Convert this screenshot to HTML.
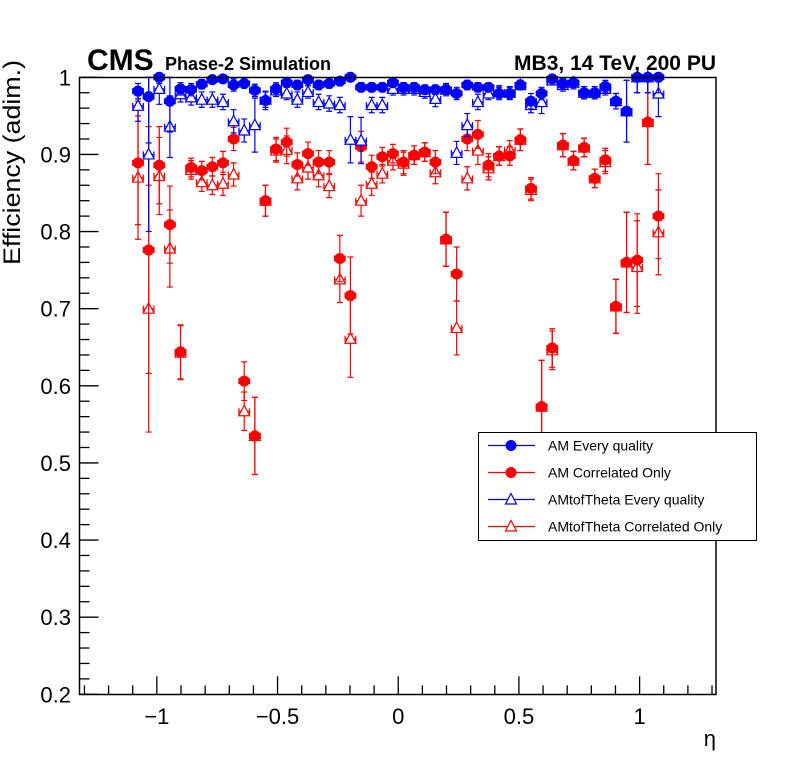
<!DOCTYPE html>
<html><head><meta charset="utf-8"><style>
body{margin:0;background:#fff}
svg text{font-family:"Liberation Sans",Arial,sans-serif}
</style></head><body>
<svg id="c" width="796" height="772" viewBox="0 0 796 772" xmlns="http://www.w3.org/2000/svg">
<rect x="0" y="0" width="796" height="772" fill="#fff"/>
<g id="marks"></g>
<rect x="79.5" y="77.5" width="636.5" height="617" fill="none" stroke="#000" stroke-width="1.5"/>
<g id="axes"></g>
<text x="87" y="70" font-size="30" font-weight="bold">CMS</text>
<text x="165" y="70" font-size="18" font-weight="bold">Phase-2 Simulation</text>
<text x="716" y="70" font-size="21" font-weight="bold" text-anchor="end">MB3, 14 TeV, 200 PU</text>
<text transform="translate(20,265) rotate(-90)" font-size="24" textLength="205" lengthAdjust="spacingAndGlyphs">Efficiency (adim.)</text>
<text x="716" y="746" font-size="22" text-anchor="end">η</text>
<g>
<rect x="478.5" y="432.5" width="278" height="108" fill="#fff" stroke="#000" stroke-width="1"/>
</g>
<g id="legend"></g>
</svg>
<script>
const etaMin=-1.078, etaStep=0.044;
const amEvery=[0.982,0.975,1.0,0.969,0.985,0.984,0.991,0.997,0.998,0.990,0.992,0.983,0.970,0.985,0.993,0.990,0.997,0.990,0.992,0.995,1.0,0.987,0.987,0.987,0.993,0.987,0.987,0.984,0.984,0.984,0.979,0.990,0.987,0.987,0.979,0.979,0.990,0.969,0.979,0.998,0.992,0.993,0.980,0.980,0.988,0.969,0.956,1.0,1.0,1.0];
const amEveryErr=[0.01,0.06,0.008,0.04,0.008,0.008,0.006,0.005,0.005,0.008,0.006,0.008,0.012,0.008,0.006,0.006,0.005,0.006,0.006,0.006,0.005,0.006,0.006,0.006,0.006,0.006,0.006,0.006,0.006,0.006,0.008,0.006,0.006,0.006,0.008,0.008,0.006,0.01,0.008,0.004,0.006,0.006,0.008,0.008,0.008,0.01,0.04,0.02,0.02,0.02];
const amCorr=[0.889,0.776,0.886,0.809,0.644,0.883,0.879,0.884,0.889,0.920,0.606,0.535,0.840,0.907,0.916,0.887,0.901,0.890,0.890,0.765,0.717,0.910,0.884,0.897,0.901,0.890,0.899,0.903,0.890,0.790,0.745,0.920,0.926,0.886,0.898,0.898,0.919,0.856,0.573,0.649,0.912,0.892,0.909,0.869,0.893,0.703,0.760,0.763,0.942,0.820];
const amCorrErr=[0.08,0.16,0.05,0.05,0.035,0.012,0.012,0.012,0.015,0.015,0.025,0.05,0.02,0.015,0.018,0.015,0.015,0.015,0.015,0.03,0.05,0.02,0.015,0.012,0.012,0.015,0.012,0.012,0.015,0.035,0.035,0.015,0.018,0.015,0.012,0.012,0.014,0.014,0.06,0.025,0.015,0.012,0.012,0.012,0.015,0.035,0.065,0.06,0.055,0.055];
const tofEvery=[0.963,0.900,0.985,0.936,0.978,0.974,0.971,0.971,0.968,0.943,0.931,0.938,0.971,0.983,0.979,0.971,0.981,0.968,0.966,0.964,0.919,0.918,0.964,0.964,0.985,0.985,0.985,0.981,0.972,0.984,0.902,0.938,0.968,0.979,0.981,0.980,0.990,0.964,0.968,0.996,0.990,0.993,0.980,0.980,0.985,0.969,0.956,1.0,1.0,0.979];
const tofEveryErr=[0.02,0.1,0.02,0.04,0.01,0.01,0.01,0.01,0.01,0.015,0.015,0.035,0.01,0.008,0.008,0.01,0.008,0.01,0.01,0.01,0.03,0.03,0.01,0.01,0.008,0.008,0.008,0.008,0.01,0.008,0.015,0.015,0.01,0.008,0.008,0.008,0.006,0.01,0.015,0.006,0.008,0.008,0.008,0.008,0.008,0.01,0.04,0.02,0.02,0.03];
const tofCorr=[0.870,0.700,0.872,0.778,0.643,0.880,0.864,0.860,0.862,0.874,0.567,0.535,0.840,0.905,0.906,0.869,0.883,0.873,0.859,0.738,0.661,0.840,0.862,0.875,0.892,0.888,0.899,0.903,0.877,0.790,0.675,0.869,0.905,0.882,0.898,0.906,0.919,0.854,0.573,0.646,0.912,0.892,0.909,0.869,0.890,0.703,0.760,0.754,0.942,0.799];
const tofCorrErr=amCorrErr;
const yTicks=[0.2,0.3,0.4,0.5,0.6,0.7,0.8,0.9,1];
const yTickLabels=["0.2","0.3","0.4","0.5","0.6","0.7","0.8","0.9","1"];
const xTicks=[-1,-0.5,0,0.5,1];
const xTickLabels=["\u22121","\u22120.5","0","0.5","1"];

const NS="http://www.w3.org/2000/svg";
const X0=79.5,X1=716,Y0=694.3,Y1=77.3;
const xMin=-1.3205,xMax=1.3165,yMin=0.2,yMax=1.0;
function sx(v){return X0+(v-xMin)/(xMax-xMin)*(X1-X0);}
function sy(v){return Y0-(v-yMin)/(yMax-yMin)*(Y0-Y1);}
function mk(tag,attrs,parent){const e=document.createElementNS(NS,tag);for(const k in attrs)e.setAttribute(k,attrs[k]);parent.appendChild(e);return e;}
const axes=document.getElementById('axes');
for(let k=0;k<=40;k++){
  const v=0.2+k*0.02; if(v>1.0001)break;
  const major=k%5===0; const y=sy(v);
  const t=mk('line',{x1:X0,x2:X0+(major?19:10),y1:y,y2:y,stroke:'#000','stroke-width':1.3},axes);
  
  
}
yTicks.forEach((v,i)=>{
  const t=mk('text',{x:71,y:sy(v)+8,'font-size':22,'text-anchor':'end'},axes);
  t.textContent=yTickLabels[i];
  
  
});
for(let k=-13;k<=13;k++){
  const v=k*0.1; const x=sx(v); if(x<X0+1||x>X1-1)continue;
  const major=k%5===0;
  const t=mk('line',{x1:x,x2:x,y1:Y0,y2:Y0-(major?18:9),stroke:'#000','stroke-width':1.3},axes);
  
  
}
xTicks.forEach((v,i)=>{
  const t=mk('text',{x:sx(v),y:724,'font-size':22,'text-anchor':'middle'},axes);
  t.textContent=xTickLabels[i];
  
  
});
const marks=document.getElementById('marks');
function drawMarker(g,x,y,color,type){
  if(type==='circle'){
    const m=mk('circle',{cx:x,cy:y,r:5.5,fill:color},g);
    
    
  }else{
    const m=mk('polygon',{points:`${x},${y-6} ${x-5.5},${y+4.5} ${x+5.5},${y+4.5}`,fill:'#fff',stroke:color,'stroke-width':1.2},g);
    
    
  }
}
function drawSeries(vals,errs,color,type,name){
  const g=mk('g',{},marks);
  
  
  vals.forEach((v,i)=>{
    const eta=etaMin+etaStep*i;
    const x=sx(eta),y=sy(v);
    const hw=sx(eta+etaStep/2)-x;
    const yt=sy(Math.min(v+errs[i],1.0)),yb=sy(v-errs[i]);
    const p=mk('path',{d:`M${x},${yt}V${yb}M${x-hw},${y}H${x+hw}M${x-3},${yt}H${x+3}M${x-3},${yb}H${x+3}M${x-hw},${y-3}V${y+3}M${x+hw},${y-3}V${y+3}`,stroke:color,'stroke-width':1.2,fill:'none'},g);
    
    
    drawMarker(g,x,y,color,type);
  });
}
drawSeries(tofCorr,tofCorrErr,'#ff0000','tri','series-amtoftheta-correlated');
drawSeries(amCorr,amCorrErr,'#ff0000','circle','series-am-correlated');
drawSeries(tofEvery,tofEveryErr,'#0000ff','tri','series-amtoftheta-every');
drawSeries(amEvery,amEveryErr,'#0000ff','circle','series-am-every');
const legendLabels=["AM Every quality","AM Correlated Only","AMtofTheta Every quality","AMtofTheta Correlated Only"];
const legendColors=["#0000ff","#ff0000","#0000ff","#ff0000"];
const legendTypes=["circle","circle","tri","tri"];
const lg=document.getElementById('legend');
legendLabels.forEach((lab,i)=>{
  const y=445.5+i*27;
  const g=mk('g',{},lg);
  
  
  mk('line',{x1:488,x2:535,y1:y,y2:y,stroke:legendColors[i],'stroke-width':1.2},g);
  drawMarker(g,511,y,legendColors[i],legendTypes[i]);
  const t=mk('text',{x:548,y:y+5,'font-size':14},g);
  t.textContent=lab;
});
</script>
</body></html>
